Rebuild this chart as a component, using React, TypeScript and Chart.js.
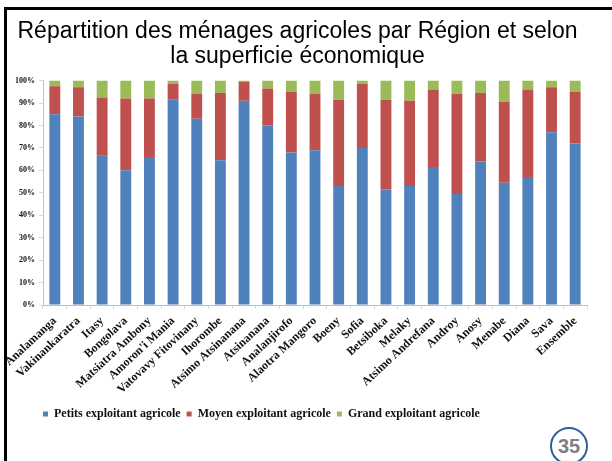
import React, { useEffect, useRef } from "react";
import { Chart, registerables } from "chart.js";

Chart.register(...registerables);

const titleLines = [
  "Répartition des ménages agricoles par Région et selon",
  "la superficie économique",
];

const categories = [
  "Analamanga",
  "Vakinankaratra",
  "Itasy",
  "Bongolava",
  "Matsiatra Ambony",
  "Amoron'i Mania",
  "Vatovavy Fitovinany",
  "Ihorombe",
  "Atsimo Atsinanana",
  "Atsinanana",
  "Analanjirofo",
  "Alaotra Mangoro",
  "Boeny",
  "Sofia",
  "Betsiboka",
  "Melaky",
  "Atsimo Andrefana",
  "Androy",
  "Anosy",
  "Menabe",
  "Diana",
  "Sava",
  "Ensemble",
];

const petits = [85, 84, 66.5, 60, 66, 91.5, 83, 64.5, 91, 80, 68, 69, 53, 70, 51.5, 53, 61.5, 49.5, 64, 54.5, 57, 77, 72];
const moyens = [12.5, 13, 26, 32, 26, 7, 11, 30, 8.5, 16.5, 27, 25, 38.5, 28.5, 40, 38, 34.5, 44.5, 30.5, 36, 39, 20, 23];
const grands = [2.5, 3, 7.5, 8, 8, 1.5, 6, 5.5, 0.5, 3.5, 5, 6, 8.5, 1.5, 8.5, 9, 4, 6, 5.5, 9.5, 4, 3, 5];

const seriesNames = [
  "Petits exploitant agricole",
  "Moyen exploitant agricole",
  "Grand exploitant agricole",
];

const pageNumber = "35";

export default function App() {
  const ref = useRef<HTMLCanvasElement | null>(null);

  useEffect(() => {
    if (!ref.current) return;
    const legendShift = {
      id: "legendShift",
      afterLayout(chart: any) {
        if (chart.legend) {
          chart.legend.left = 37;
          chart.legend.right = 612;
        }
      },
    };
    const chart = new Chart(ref.current, {
      type: "bar",
      data: {
        labels: categories,
        datasets: [
          { label: seriesNames[0], data: petits, backgroundColor: "#4F81BD" },
          { label: seriesNames[1], data: moyens, backgroundColor: "#C0504D" },
          { label: seriesNames[2], data: grands, backgroundColor: "#9BBB59" },
        ],
      },
      options: {
        responsive: false,
        animation: false,
        devicePixelRatio: 1,
        layout: { padding: { left: 8, right: 25, top: 0, bottom: 31 } },
        datasets: { bar: { categoryPercentage: 1, barPercentage: 0.46 } },
        plugins: {
          title: {
            display: true,
            text: titleLines,
            color: "#000",
            font: { family: "'Liberation Sans', Arial, sans-serif", size: 23, weight: "normal", lineHeight: 1.1 },
            padding: { top: 19, bottom: 11 },
          },
          legend: {
            position: "bottom",
            align: "start",
            labels: {
              boxWidth: 5,
              boxHeight: 5,
              padding: 6,
              color: "#111",
              font: { family: "'Liberation Serif', 'Times New Roman', serif", size: 12, weight: "bold" },
            },
          },
          tooltip: { enabled: false },
        },
        scales: {
          x: {
            stacked: true,
            grid: { display: true, drawOnChartArea: false, tickLength: 4, color: "#d9d9d9", offset: true },
            border: { color: "#bfbfbf" },
            ticks: {
              minRotation: 43,
              maxRotation: 43,
              autoSkip: false,
              padding: 5,
              color: "#111",
              font: { family: "'Liberation Serif', 'Times New Roman', serif", size: 12, weight: "bold" },
            },
            afterFit: (s: any) => {
              s.height = 97;
            },
          },
          y: {
            stacked: true,
            min: 0,
            max: 100,
            grid: { display: true, drawOnChartArea: false, tickLength: 4, color: "#d9d9d9" },
            border: { color: "#bfbfbf" },
            ticks: {
              stepSize: 10,
              padding: 4,
              color: "#111",
              font: { family: "'Liberation Serif', 'Times New Roman', serif", size: 8, weight: "bold" },
              callback: (v: any) => v + "%",
            },
            afterFit: (s: any) => {
              s.width = 35;
            },
          },
        },
      },
      plugins: [legendShift],
    });
    return () => chart.destroy();
  }, []);

  return (
    <div style={{ position: "absolute", left: 0, top: 0, width: 612, height: 461, overflow: "hidden", background: "#fff" }}>
      <canvas ref={ref} width={612} height={461} style={{ position: "absolute", left: 0, top: 0, width: 612, height: 461 }} />
      <div
        style={{
          position: "absolute",
          left: 4,
          top: 7,
          width: 700,
          height: 600,
          borderLeft: "3px solid #000",
          borderTop: "3px solid #000",
          pointerEvents: "none",
        }}
      />
      <div
        style={{
          position: "absolute",
          left: 550,
          top: 427,
          width: 34,
          height: 34,
          borderRadius: "50%",
          border: "2px solid #2F5F9A",
          display: "flex",
          alignItems: "center",
          justifyContent: "center",
          fontFamily: "'Liberation Sans', Arial, sans-serif",
          fontWeight: "bold",
          fontSize: 20,
          color: "#7F7F7F",
          background: "#fff",
        }}
      >
        {pageNumber}
      </div>
    </div>
  );
}
